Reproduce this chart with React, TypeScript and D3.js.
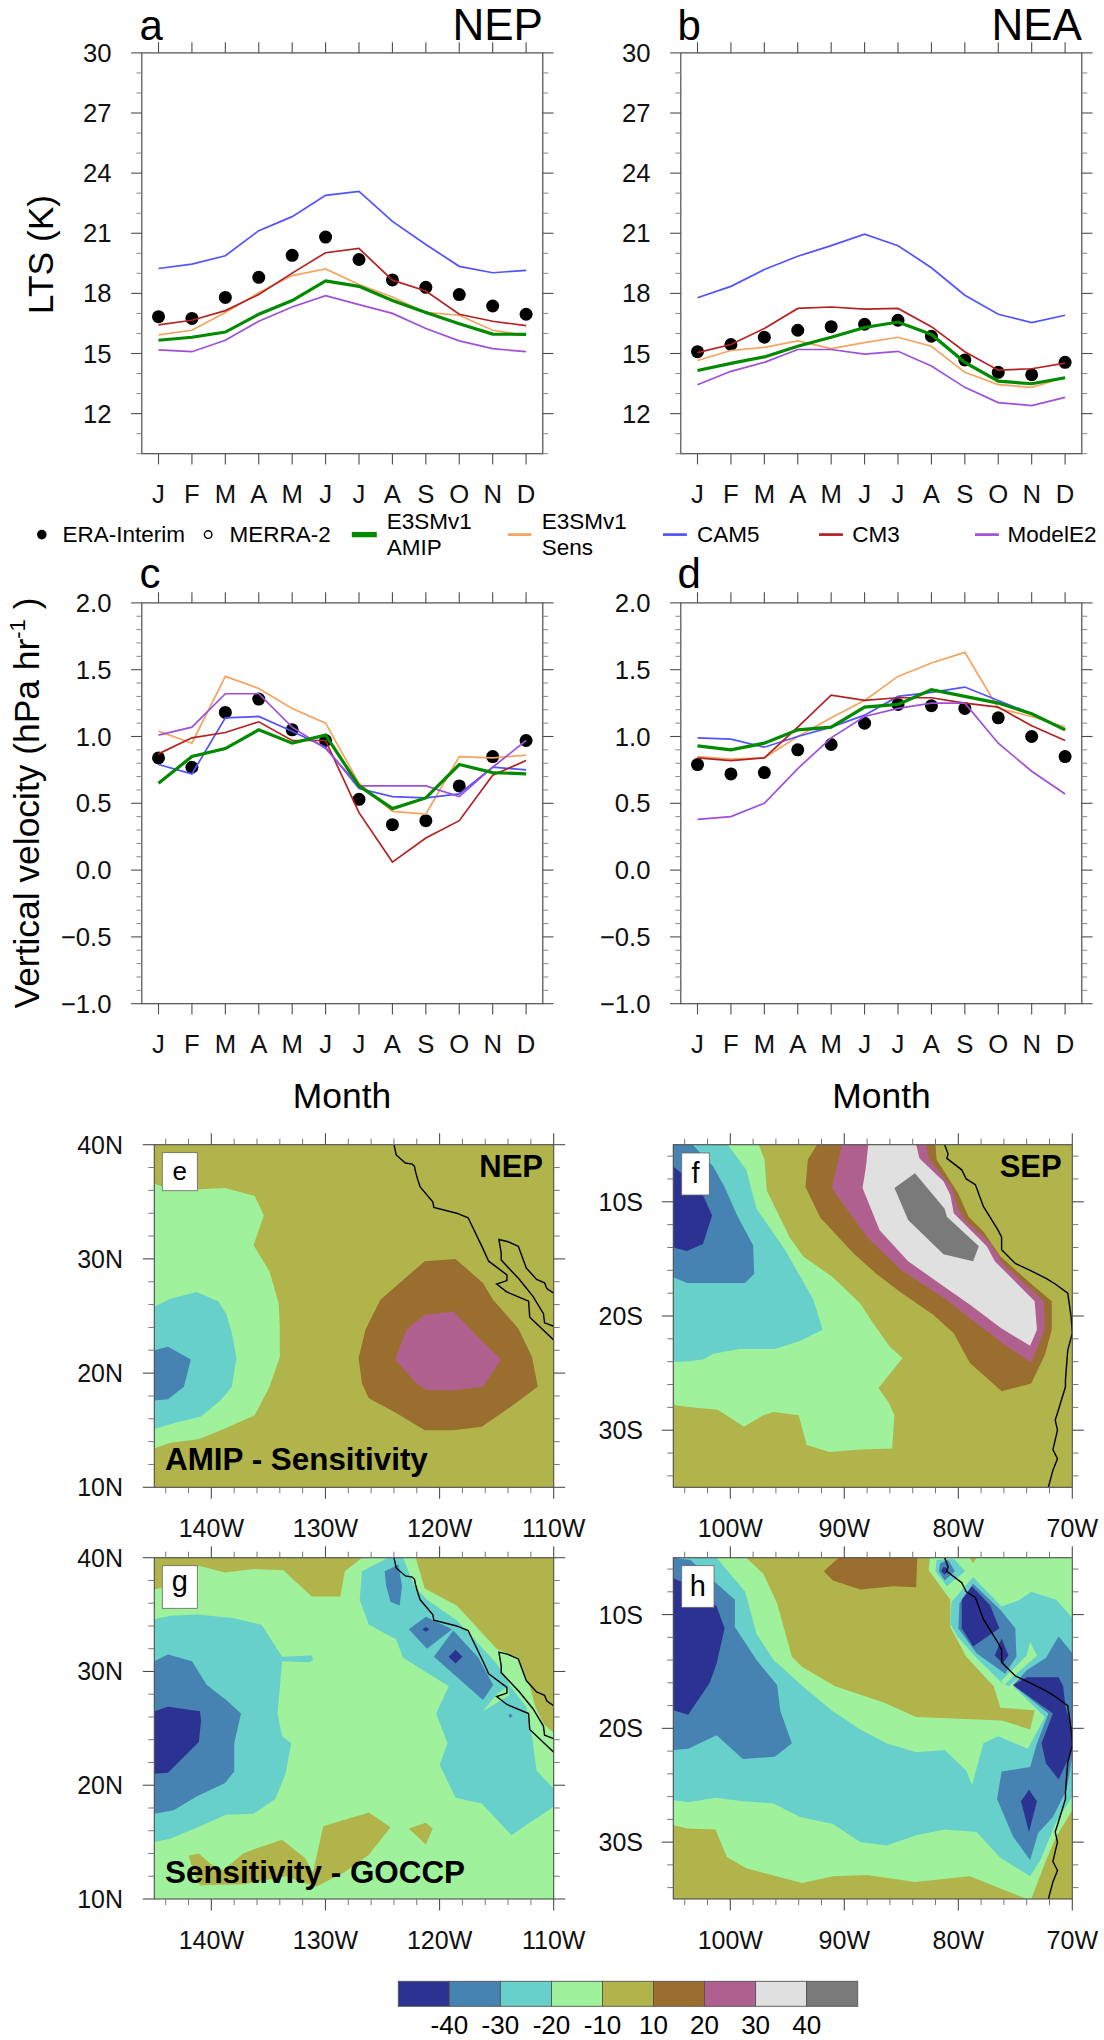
import React from "react";
import * as d3 from "d3";

const months = ["J","F","M","A","M","J","J","A","S","O","N","D"];

// Panel a: LTS NEP
const aEra = [16.84,16.75,17.8,18.8,19.9,20.81,19.69,18.67,18.3,17.94,17.37,16.96];
const aAmip = [15.66,15.81,16.07,16.96,17.64,18.62,18.35,17.64,17.05,16.48,15.97,15.95];
const aSens = [15.93,16.16,17.05,18.03,18.89,19.22,18.44,17.82,17.05,16.91,16.16,15.9];
const aCam5 = [19.24,19.46,19.88,21.13,21.83,22.89,23.09,21.59,20.44,19.35,19.03,19.15];
const aCm3 = [16.43,16.66,17.14,17.94,19.01,20.03,20.24,18.66,18.12,16.96,16.61,16.39];
const aE2 = [15.18,15.09,15.66,16.61,17.32,17.89,17.44,17,16.25,15.63,15.24,15.09];
// Panel b: LTS NEA
const bEra = [15.09,15.45,15.81,16.16,16.34,16.46,16.66,15.86,14.68,14.06,13.94,14.56];
const bAmip = [14.15,14.51,14.83,15.36,15.81,16.3,16.57,15.95,14.56,13.62,13.49,13.79];
const bSens = [14.65,15.15,15.31,15.63,15.24,15.54,15.81,15.36,14.06,13.45,13.31,13.81];
const bCam5 = [17.78,18.35,19.19,19.85,20.38,20.95,20.38,19.28,17.91,16.96,16.54,16.91];
const bCm3 = [15.04,15.45,16.25,17.25,17.32,17.21,17.25,16.34,15.09,14.17,14.24,14.52];
const bE2 = [13.44,14.11,14.56,15.2,15.2,14.97,15.11,14.38,13.31,12.55,12.4,12.81];
// Panel c: omega NEP
const cEra = [0.84,0.77,1.18,1.28,1.05,0.97,0.53,0.34,0.37,0.63,0.85,0.97];
const cAmip = [0.65,0.85,0.91,1.05,0.95,1.01,0.63,0.46,0.54,0.79,0.73,0.72];
const cSens = [1.04,0.95,1.45,1.36,1.21,1.1,0.65,0.44,0.42,0.85,0.84,0.86];
const cCam5 = [0.79,0.72,1.14,1.15,1.04,0.92,0.61,0.55,0.54,0.57,0.77,0.75];
const cCm3 = [0.87,0.99,1.03,1.11,0.97,0.97,0.43,0.06,0.24,0.37,0.71,0.82];
const cE2 = [1.01,1.07,1.32,1.32,1.07,0.91,0.63,0.63,0.63,0.55,0.77,0.97];
// Panel d: omega NEA
const dEra = [0.79,0.72,0.73,0.9,0.94,1.1,1.24,1.23,1.21,1.14,1.0,0.85];
const dAmip = [0.93,0.9,0.95,1.05,1.07,1.22,1.24,1.35,1.3,1.25,1.17,1.05];
const dSens = [0.85,0.83,0.84,1.0,1.14,1.27,1.45,1.55,1.63,1.21,1.15,1.07];
const dCam5 = [0.99,0.98,0.92,1.0,1.07,1.16,1.3,1.33,1.37,1.27,1.17,1.05];
const dCm3 = [0.84,0.82,0.84,1.07,1.31,1.27,1.29,1.29,1.25,1.22,1.08,0.97];
const dE2 = [0.38,0.4,0.5,0.76,0.99,1.15,1.21,1.25,1.25,0.95,0.74,0.57];

const fillLevels = ["#2b3291","#4683b3","#67d0cb","#9ff29b","#b0b44a","#9a6e2f","#b0608f","#e0e0e0","#7a7a7a"];
const levelLabels = ["-40","-30","-20","-10","10","20","30","40"];

type P = [number, number];
type Shape = { c: number; pts: P[] };

// Coastlines [lon, lat]
const coastNepA: P[] = [[-124,40],[-123.8,39.1],[-123,38.4],[-122.4,38.3],[-122.2,38.1],[-122.1,37.6],[-121.9,36.9],[-121.7,36.3],[-120.6,35],[-120.5,34.5],[-118.5,34],[-117.5,33.6],[-116.2,30.9],[-115.7,29.8],[-114.1,28.6],[-114.1,28.1],[-115,27.8],[-114.1,27.1],[-112.2,26.3],[-112.1,24.9],[-110,22.9]];
const coastNepB: P[] = [[-110,27],[-110.6,27.4],[-110.8,27.9],[-111.5,28.2],[-112.4,29.2],[-113.1,31.1],[-114,31.5],[-114.8,31.7],[-114.6,30.5],[-114.6,29.9],[-113,28.2],[-111.8,26.7],[-110.9,25.2],[-110.8,24.4],[-110,24.1]];
const coastSep: P[] = [[-81.2,-5],[-80.9,-5.8],[-81,-6.2],[-79.7,-7.2],[-79.3,-8],[-78.5,-8.5],[-77.8,-10.4],[-76.5,-12.5],[-76.2,-13.1],[-76.2,-14.2],[-75,-15.4],[-73.7,-16],[-72.3,-16.7],[-71.5,-17.2],[-70.4,-18],[-70.3,-18.7],[-70.1,-20.1],[-70,-21.5],[-70.4,-23],[-70.6,-25.6],[-70.6,-26.2],[-71.3,-28.5],[-71.5,-29.1],[-71.3,-30],[-71.7,-31.7],[-71.3,-32.5],[-71.7,-33.5],[-72.1,-35]];

// Panel e contours (level index into fillLevels)
const eShapes: Shape[] = [
  {c:3,pts:[[-145,36.6],[-143.6,36.1],[-141,36.1],[-138.8,36.2],[-136.2,35.5],[-135.4,33.8],[-136.3,31.2],[-134.9,28.9],[-134.1,26.1],[-134,24.1],[-134,21.4],[-134.9,18.8],[-136.2,16.3],[-138.7,15.2],[-141.1,14.2],[-143.6,13.9],[-145,13.4]]},
  {c:2,pts:[[-145,25.8],[-143.6,26.5],[-141.3,27.1],[-139.4,26.3],[-138.7,25.2],[-138.2,23.5],[-137.8,21.3],[-138.2,18.8],[-139.2,17.6],[-140.9,16.2],[-143.3,15.6],[-145,15.1]]},
  {c:1,pts:[[-145,22],[-143.8,22.3],[-141.8,21.2],[-142.4,18.8],[-143.8,17.7],[-145,17.6]]},
  {c:5,pts:[[-121.3,29.8],[-118.6,30],[-116.2,27.9],[-115.3,26.4],[-113.1,23.9],[-111.9,21.4],[-111.4,18.8],[-113.7,17.1],[-116.3,15.3],[-118.8,15],[-121.3,15],[-123.8,16.5],[-126.2,17.8],[-126.8,19.1],[-127.1,21.3],[-126.5,23.8],[-125.2,26.4],[-123.5,27.9]]},
  {c:6,pts:[[-122.9,23.8],[-121.3,25.1],[-118.8,25.4],[-116.3,22.8],[-114.6,21.2],[-116.2,18.8],[-118.6,18.5],[-121.1,18.5],[-122,19.1],[-123.9,21.2]]},
];

// Panel f contours
const fShapes: Shape[] = [
  {c:3,pts:[[-105,-5],[-97.5,-5],[-97,-6.3],[-96.8,-9],[-94.8,-13.1],[-93.6,-14.8],[-91,-16.6],[-88.6,-18.9],[-87.5,-20.6],[-86,-22.7],[-84.9,-23.7],[-87,-26.3],[-86.1,-27.6],[-85.6,-28.7],[-85.8,-31.6],[-88.6,-31.7],[-91.3,-31.9],[-93.3,-31.3],[-94,-28.7],[-96.2,-28.4],[-97.1,-28.7],[-98.8,-29.7],[-101.1,-28.2],[-103.5,-28],[-105,-27.8]]},
  {c:2,pts:[[-105,-5],[-100.2,-5],[-98.6,-7.2],[-97.7,-10.6],[-95.2,-14.2],[-92.7,-18.6],[-91.9,-21.2],[-93.9,-22.2],[-96.1,-22.9],[-99.2,-22.9],[-101.5,-23.3],[-102.4,-23.8],[-104.1,-24],[-105,-24]]},
  {c:1,pts:[[-105,-5],[-103.3,-5],[-101.5,-6.9],[-100.5,-8.7],[-99.4,-11.2],[-98,-13.8],[-97.9,-16.3],[-98.7,-17.1],[-103.8,-17.1],[-105,-16.6]]},
  {c:0,pts:[[-105,-6.9],[-103.8,-7.9],[-102.4,-9.4],[-101.6,-11.2],[-102.4,-13.7],[-103.8,-14.3],[-105,-14]]},
  {c:5,pts:[[-92.4,-5],[-82,-5],[-81.9,-6.3],[-80,-9.3],[-79.1,-11.3],[-77.8,-12.6],[-76.3,-14.8],[-73.7,-17.1],[-71.8,-18.7],[-71.8,-21.2],[-72.4,-23.4],[-73.6,-25.9],[-76.2,-26.6],[-79,-24.1],[-80.4,-21.5],[-82.2,-19.9],[-85.1,-17.9],[-87.2,-16.3],[-89.2,-14.5],[-92.1,-11.4],[-93.4,-8.7],[-93.2,-6.3]]},
  {c:6,pts:[[-90.2,-5],[-82.8,-5],[-82.6,-6.2],[-80.6,-8.7],[-80,-10.6],[-79.4,-11.6],[-77.2,-13.6],[-76.1,-15.4],[-72.5,-18.7],[-72.4,-21.1],[-73.6,-24.1],[-76.1,-22.4],[-79.1,-20.1],[-81,-18.6],[-85,-16],[-88,-13.1],[-91.1,-8.8]]},
  {c:7,pts:[[-87.9,-5],[-83.7,-5],[-83.4,-6.2],[-81.3,-8.2],[-80.7,-9.4],[-80.4,-11],[-79.1,-12.3],[-77.5,-13.9],[-76.8,-15.2],[-73.3,-18.7],[-73.1,-21.2],[-73.7,-22.6],[-76.2,-21.1],[-79,-19],[-81.3,-17.4],[-84.4,-15.2],[-86.9,-12.5],[-88.4,-8.8],[-88.1,-6.9]]},
  {c:8,pts:[[-83.8,-7.5],[-81.2,-10.6],[-81,-11.3],[-78.2,-13.9],[-78.7,-15.2],[-81.3,-14.6],[-84.4,-11.6],[-85.6,-8.8]]},
];

// Panel g contours
const gShapes: Shape[] = [
  {c:4,pts:[[-145,37.2],[-143.9,37.5],[-141.1,39.3],[-138.8,38.7],[-136.3,39],[-133.7,38.9],[-131.2,36.6],[-128.7,36.6],[-128.3,38.8],[-126.8,40],[-145,40]]},
  {c:4,pts:[[-122.1,40],[-110,40],[-110,24.6],[-110.9,25.4],[-111.6,26.9],[-112.1,28.7],[-113.1,31.2],[-115,32],[-118.5,35.8],[-121.3,37.3]]},
  {c:4,pts:[[-142,13.8],[-141.1,14],[-140.1,13.1],[-139,12.5],[-137.2,14],[-136.2,14.4],[-133.8,15.2],[-131.8,13.6],[-131.1,12.3],[-130.2,16.4],[-126.2,17.6],[-124.3,16.3],[-126.2,13.9],[-128.4,12.3],[-130.8,11.1],[-131.9,11.4],[-133.4,12],[-137.2,11.3],[-141,11.2],[-141.6,12.5]]},
  {c:4,pts:[[-122.7,16.2],[-121.2,16.7],[-120.6,16.2],[-121.2,14.8]]},
  {c:2,pts:[[-145,34.6],[-143.6,34.9],[-141.3,35],[-138.1,34.7],[-135.6,34.1],[-133.8,31.3],[-131.2,31.4],[-131.1,31],[-131.4,30.8],[-133.8,30.9],[-134.2,26.3],[-133.8,24.3],[-133,23.7],[-133.5,21],[-134.4,18.8],[-136.3,17.5],[-138.7,17.4],[-141,16.4],[-143.6,15.3],[-145,15]]},
  {c:1,pts:[[-145,30.9],[-143.8,31.5],[-141.7,30.9],[-140.4,28.8],[-138.7,27.5],[-137.4,26.3],[-138,23.7],[-138,21.2],[-138.8,20.2],[-141.3,19],[-143.3,17.8],[-145,17.5]]},
  {c:0,pts:[[-145,26.5],[-143.8,26.9],[-141,26.5],[-140.9,25.7],[-141.1,23.8],[-143.8,21.1],[-145,21]]},
  {c:2,pts:[[-124.5,40],[-123.2,40],[-122.2,37.5],[-121.1,36.3],[-118.5,34.5],[-115,30.7],[-113.8,28.7],[-112.4,26.9],[-111.9,24.3],[-111.5,21.3],[-110,19.7],[-110,18.1],[-112.4,16.5],[-113.7,15.6],[-116.3,18.4],[-118.6,18.9],[-120,21.8],[-119.3,23.7],[-120.3,26.3],[-119.2,28.7],[-123.2,31.2],[-123.8,32.8],[-126.2,34.1],[-127,36.3],[-126.8,38.8]]},
  {c:3,pts:[[-114,28.7],[-115,28],[-116.2,26.5],[-113.9,27.9]]},
  {c:1,pts:[[-124.8,38.8],[-123.6,39.4],[-123.3,37.5],[-123.5,35.8],[-124.3,36.1],[-124.7,37.6]]},
  {c:1,pts:[[-122.7,33.7],[-121.2,34.8],[-118.9,33.7],[-121.1,32]]},
  {c:0,pts:[[-121.5,33.7],[-121.2,33.9],[-120.9,33.7],[-121.2,33.5]]},
  {c:1,pts:[[-118.8,33.6],[-116.6,31.2],[-115.3,28.8],[-116.2,27.5],[-120.5,31.3]]},
  {c:0,pts:[[-118.6,31.9],[-118,31.3],[-118.6,30.7],[-119.2,31.3]]},
  {c:1,pts:[[-113.8,26.3],[-113.6,26.1],[-113.8,25.9],[-114,26.1]]},
];

// Panel h contours
const hShapes: Shape[] = [
  {c:4,pts:[[-98.6,-5],[-82.5,-5],[-82.6,-6.1],[-80.7,-8.7],[-80.7,-11.1],[-79.3,-13.7],[-76.9,-16.3],[-76.3,-18.2],[-73.3,-18.4],[-73.7,-20.1],[-76.2,-19.3],[-83.7,-19],[-86.6,-17.7],[-90.8,-16.3],[-93.7,-14.6],[-94.6,-13.7],[-95.9,-9],[-97.1,-6.4]]},
  {c:5,pts:[[-90.5,-5],[-83.6,-5],[-83.7,-7.6],[-85.7,-7.5],[-88.6,-7.8],[-91,-7],[-91.8,-6.2]]},
  {c:4,pts:[[-105,-28.5],[-103.8,-28.8],[-101.3,-28.9],[-100.3,-31.3],[-98.6,-32.3],[-93.7,-33.6],[-91,-33],[-88,-32.9],[-83.8,-33.5],[-79,-33],[-74,-35],[-105,-35]]},
  {c:4,pts:[[-73.6,-35],[-72.3,-31.6],[-71.4,-29.5],[-70,-27.2],[-70,-35]]},
  {c:4,pts:[[-79,-5],[-78.4,-5],[-78.7,-5.5]]},
  {c:2,pts:[[-105,-5],[-101.2,-5],[-98.7,-8],[-97.7,-11.7],[-96.2,-14],[-93.3,-16.6],[-91,-18.5],[-88.6,-20.1],[-86.3,-21.3],[-83.7,-22.1],[-81.2,-21.9],[-79.3,-23.7],[-78.8,-25],[-77.8,-21.3],[-76.5,-20.7],[-73.9,-21.8],[-72.4,-19],[-75.2,-16.3],[-74,-14.9],[-70,-14.3],[-70,-26],[-71.5,-28.4],[-72.8,-31.6],[-73.7,-33],[-76.3,-31.4],[-78.4,-29.1],[-81.2,-28.9],[-83.7,-29.4],[-86.3,-30.3],[-88.6,-30],[-91,-28.4],[-93.9,-27.8],[-96.2,-26.6],[-98.9,-26.4],[-101.3,-26.1],[-103.7,-26.5],[-105,-26.3]]},
  {c:2,pts:[[-81.9,-5.2],[-80.4,-5.1],[-79.4,-6.2],[-81,-7.5],[-82,-6.2]]},
  {c:2,pts:[[-78.7,-6.7],[-76.2,-9.3],[-74.6,-8.7],[-73.6,-8],[-71.4,-8.7],[-70,-10.3],[-70,-14.3],[-73.1,-14.3],[-75.6,-16.3],[-76.2,-16],[-78.5,-13.7],[-80.1,-11.9],[-80.7,-10.8],[-80.6,-8.9]]},
  {c:3,pts:[[-73.7,-12.4],[-73.1,-13.6],[-74.9,-15.2],[-76,-16.2],[-76.2,-15.8],[-74,-13.6]]},
  {c:1,pts:[[-105,-5],[-103.5,-5.2],[-101.5,-7],[-99.6,-8.7],[-99.6,-11.1],[-97.7,-14],[-95.9,-16.2],[-95.6,-18.5],[-94.6,-21.3],[-96.1,-22.5],[-98.9,-22.7],[-101.2,-20.6],[-103.7,-21.8],[-105,-21.9]]},
  {c:0,pts:[[-105,-6.8],[-102.7,-7.8],[-101.2,-9.3],[-100.5,-11.2],[-101.2,-14.3],[-101.8,-16],[-103.7,-18.8],[-105,-18.4]]},
  {c:1,pts:[[-81.6,-5.5],[-80.9,-5.2],[-80.3,-6.2],[-81.2,-7],[-81.7,-6.2]]},
  {c:0,pts:[[-81.3,-5.8],[-81,-5.9],[-80.9,-6.2],[-81.2,-6.5],[-81.5,-6.2]]},
  {c:1,pts:[[-79.9,-9],[-78.7,-7.3],[-76.3,-9.6],[-75,-11.2],[-74.9,-13.7],[-75.9,-15.2],[-78.4,-13.4],[-80,-11.2]]},
  {c:0,pts:[[-78.8,-7.5],[-77.2,-9.2],[-76.4,-11.2],[-78.7,-12.8],[-79.7,-11.2],[-79.7,-8.7]]},
  {c:0,pts:[[-76.2,-12.1],[-75.6,-13.6],[-76.1,-14.3],[-76.8,-13.6]]},
  {c:1,pts:[[-71.2,-11.9],[-70,-13.4],[-70,-22.5],[-70.5,-25.4],[-71.7,-27.8],[-73,-29.2],[-73.7,-31.6],[-75.2,-29.5],[-76.6,-26.2],[-76.2,-23.8],[-73.7,-23.4],[-73.1,-21.3],[-72.1,-18.7],[-75.2,-16.2],[-74,-14.9],[-72.3,-13.8]]},
  {c:0,pts:[[-75.2,-16.2],[-74,-15.5],[-71.2,-15.5],[-70.8,-16.3],[-70.6,-18.1],[-70,-20.1],[-70,-21.9],[-71.2,-24.5],[-72.3,-23.1],[-72.7,-21.3],[-71.7,-18.7]]},
  {c:0,pts:[[-73.8,-25.4],[-73.1,-26.4],[-73.8,-29.1],[-74.5,-26.4]]},
];

const FONT = "'Liberation Sans', Arial, sans-serif";
const AXIS = "#4d4d4d";
const COLORS = { amip:"#008a00", sens:"#f4a460", cam5:"#5252ff", cm3:"#b22222", e2:"#9f4fd8" };
const PW = 401;
const PH = 400.8;

const xScaleFor = (x0: number) => d3.scaleLinear().domain([0.5, 12.5]).range([x0, x0 + PW]);

function LinePanel(p: { x0: number; y0: number; dom: [number, number]; major: number[]; minor: number[]; fmt: (v:number)=>string;
  era: number[]; amip: number[]; sens: number[]; cam5: number[]; cm3: number[]; e2: number[]; labelRight: number; }) {
  const x = xScaleFor(p.x0);
  const y = d3.scaleLinear().domain(p.dom).range([p.y0 + PH, p.y0]);
  const path = d3.line<number>().x((_, i) => x(i + 1)).y(v => y(v));
  const x1 = p.x0 + PW, yb = p.y0 + PH;
  return (
    <g>
      {p.era.map((v, i) => <circle key={i} cx={x(i + 1)} cy={y(v)} r={6.5} fill="#000" />)}
      <path d={path(p.sens)!} fill="none" stroke={COLORS.sens} strokeWidth={1.7} />
      <path d={path(p.cam5)!} fill="none" stroke={COLORS.cam5} strokeWidth={1.7} />
      <path d={path(p.cm3)!} fill="none" stroke={COLORS.cm3} strokeWidth={1.7} />
      <path d={path(p.e2)!} fill="none" stroke={COLORS.e2} strokeWidth={1.7} />
      <path d={path(p.amip)!} fill="none" stroke={COLORS.amip} strokeWidth={3.2} />
      <rect x={p.x0} y={p.y0} width={PW} height={PH} fill="none" stroke={AXIS} strokeWidth={1.2} />
      {months.map((m, i) => (
        <g key={i}>
          <line x1={x(i + 1)} x2={x(i + 1)} y1={p.y0} y2={p.y0 - 10.7} stroke={AXIS} strokeWidth={1.1} />
          <line x1={x(i + 1)} x2={x(i + 1)} y1={yb} y2={yb + 10.7} stroke={AXIS} strokeWidth={1.1} />
          <text x={x(i + 1)} y={yb + 49.7} textAnchor="middle" fontSize={25.7} fontFamily={FONT} fill="#111">{m}</text>
        </g>
      ))}
      {p.minor.map(v => (
        <g key={v} stroke="#888" strokeWidth={1}>
          <line x1={p.x0} x2={p.x0 - 5.4} y1={y(v)} y2={y(v)} />
          <line x1={x1} x2={x1 + 5.4} y1={y(v)} y2={y(v)} />
        </g>
      ))}
      {p.major.map(v => (
        <g key={v}>
          <line x1={p.x0} x2={p.x0 - 10.7} y1={y(v)} y2={y(v)} stroke={AXIS} strokeWidth={1.1} />
          <line x1={x1} x2={x1 + 10.7} y1={y(v)} y2={y(v)} stroke={AXIS} strokeWidth={1.1} />
          <text x={p.labelRight} y={y(v) + 9.1} textAnchor="end" fontSize={25.7} fontFamily={FONT} fill="#111">{p.fmt(v)}</text>
        </g>
      ))}
    </g>
  );
}

function MapPanel(p: { id: string; x0: number; y0: number; h: number; lon: [number, number]; lat: [number, number];
  lonMajor: number[]; latMajor: number[]; lonLabel: (v:number)=>string; latLabel: (v:number)=>string;
  base: number; shapes: Shape[]; coasts: P[][]; labelRight: number; }) {
  const w = p.id === "e" || p.id === "g" ? 399.4 : 399;
  const x = d3.scaleLinear().domain(p.lon).range([p.x0, p.x0 + w]);
  const y = d3.scaleLinear().domain(p.lat).range([p.y0 + p.h, p.y0]);
  const poly = d3.line<P>().x(d => x(d[0])).y(d => y(d[1])).curve(d3.curveLinearClosed);
  const open = d3.line<P>().x(d => x(d[0])).y(d => y(d[1]));
  const lonMinor = d3.range(p.lon[0] + (((-p.lon[0]) % 2) ? 1 : 0), p.lon[1] + 0.01, 2).filter(v => !p.lonMajor.includes(v));
  const latMinor = d3.range(p.lat[0] + ((Math.abs(p.lat[0]) % 2) ? 1 : 0), p.lat[1] + 0.01, 2).filter(v => !p.latMajor.includes(v));
  const x1 = p.x0 + w, yb = p.y0 + p.h;
  return (
    <g>
      <clipPath id={"clip" + p.id}><rect x={p.x0} y={p.y0} width={w} height={p.h} /></clipPath>
      <rect x={p.x0} y={p.y0} width={w} height={p.h} fill={fillLevels[p.base]} />
      <g clipPath={`url(#clip${p.id})`}>
        {p.shapes.map((s, i) => <path key={i} d={poly(s.pts)!} fill={fillLevels[s.c]} />)}
        {p.coasts.map((c, i) => <path key={i} d={open(c)!} fill="none" stroke="#000" strokeWidth={1.4} />)}
      </g>
      <rect x={p.x0} y={p.y0} width={w} height={p.h} fill="none" stroke={AXIS} strokeWidth={1.1} />
      {lonMinor.map(v => (
        <g key={v} stroke="#777" strokeWidth={1}>
          <line x1={x(v)} x2={x(v)} y1={p.y0} y2={p.y0 - 6} />
          <line x1={x(v)} x2={x(v)} y1={yb} y2={yb + 6} />
        </g>
      ))}
      {latMinor.map(v => (
        <g key={v} stroke="#777" strokeWidth={1}>
          <line x1={p.x0} x2={p.x0 - 6} y1={y(v)} y2={y(v)} />
          <line x1={x1} x2={x1 + 6} y1={y(v)} y2={y(v)} />
        </g>
      ))}
      {p.lonMajor.map(v => (
        <g key={v}>
          <line x1={x(v)} x2={x(v)} y1={p.y0} y2={p.y0 - 11.5} stroke={AXIS} strokeWidth={1.1} />
          <line x1={x(v)} x2={x(v)} y1={yb} y2={yb + 11.5} stroke={AXIS} strokeWidth={1.1} />
          <text x={x(v)} y={yb + 50} textAnchor="middle" fontSize={25} fontFamily={FONT} fill="#111">{p.lonLabel(v)}</text>
        </g>
      ))}
      {p.latMajor.map(v => (
        <g key={v}>
          <line x1={p.x0} x2={p.x0 - 11.5} y1={y(v)} y2={y(v)} stroke={AXIS} strokeWidth={1.1} />
          <line x1={x1} x2={x1 + 11.5} y1={y(v)} y2={y(v)} stroke={AXIS} strokeWidth={1.1} />
          <text x={p.labelRight} y={y(v) + 9} textAnchor="end" fontSize={25} fontFamily={FONT} fill="#111">{p.latLabel(v)}</text>
        </g>
      ))}
    </g>
  );
}

function LetterBox(p: { x: number; y: number; w: number; h: number; t: string; by: number; fs: number }) {
  return (
    <g>
      <rect x={p.x} y={p.y} width={p.w} height={p.h} fill="#fff" stroke="#666" strokeWidth={0.8} />
      <text x={p.x + p.w / 2} y={p.by} textAnchor="middle" fontSize={p.fs} fontFamily={FONT} fill="#000">{p.t}</text>
    </g>
  );
}

const T = (p: { x: number; y: number; s: number; t: string; a?: string; b?: boolean }) => (
  <text x={p.x} y={p.y} fontSize={p.s} fontFamily={FONT} fontWeight={p.b ? "bold" : "normal"} textAnchor={p.a ?? "start"} fill="#000">{p.t}</text>
);

export default function App() {
  const ltsMajor = [12, 15, 18, 21, 24, 27, 30];
  const ltsMinor = d3.range(10, 31).filter(v => !ltsMajor.includes(v));
  const omMajor = [-1, -0.5, 0, 0.5, 1, 1.5, 2];
  const omMinor = d3.range(-10, 21).map(v => v / 10).filter(v => !omMajor.includes(v));
  const lonLab = (v: number) => `${Math.abs(v)}W`;
  const latN = (v: number) => `${v}N`;
  const latS = (v: number) => `${Math.abs(v)}S`;
  const cbar = d3.scaleLinear().domain([0, 9]).range([398.3, 857.7]);
  const axisFmt = d3.format(".1f");
  return (
    <svg width={1104} height={2040} viewBox="0 0 1104 2040" style={{ position: "absolute", left: 0, top: 0, display: "block", background: "#fff" }}>
      <LinePanel x0={141.8} y0={52.9} dom={[10, 30]} major={ltsMajor} minor={ltsMinor} fmt={v => String(v)} era={aEra} amip={aAmip} sens={aSens} cam5={aCam5} cm3={aCm3} e2={aE2} labelRight={111.5} />
      <LinePanel x0={680.8} y0={52.9} dom={[10, 30]} major={ltsMajor} minor={ltsMinor} fmt={v => String(v)} era={bEra} amip={bAmip} sens={bSens} cam5={bCam5} cm3={bCm3} e2={bE2} labelRight={650.5} />
      <LinePanel x0={141.8} y0={602.9} dom={[-1, 2]} major={omMajor} minor={omMinor} fmt={axisFmt} era={cEra} amip={cAmip} sens={cSens} cam5={cCam5} cm3={cCm3} e2={cE2} labelRight={111.5} />
      <LinePanel x0={680.8} y0={602.9} dom={[-1, 2]} major={omMajor} minor={omMinor} fmt={axisFmt} era={dEra} amip={dAmip} sens={dSens} cam5={dCam5} cm3={dCm3} e2={dE2} labelRight={650.5} />

      <T x={139.5} y={39.5} s={42} t="a" />
      <T x={542.9} y={40.3} s={44} t="NEP" a="end" />
      <T x={677.5} y={39.5} s={42} t="b" />
      <T x={1081.9} y={40.3} s={44} t="NEA" a="end" />
      <T x={139.5} y={588} s={42} t="c" />
      <T x={677.5} y={588} s={42} t="d" />

      <text transform="translate(52.5,254.5) rotate(-90)" textAnchor="middle" fontSize={35.4} fontFamily={FONT} fill="#000">LTS (K)</text>
      <text transform="translate(38.6,803) rotate(-90)" textAnchor="middle" fontSize={35.4} fontFamily={FONT} fill="#000">
        Vertical velocity (hPa hr<tspan dy={-14} fontSize={22}>-1</tspan><tspan dy={14}> )</tspan>
      </text>
      <T x={342} y={1108} s={35.4} t="Month" a="middle" />
      <T x={881.5} y={1108} s={35.4} t="Month" a="middle" />

      {/* Legend */}
      <circle cx={41.8} cy={534.6} r={4.8} fill="#000" />
      <T x={62.5} y={542} s={22.5} t="ERA-Interim" />
      <circle cx={208.2} cy={534.6} r={3.8} fill="none" stroke="#000" strokeWidth={1.4} />
      <T x={229.6} y={542} s={22.5} t="MERRA-2" />
      <line x1={351.8} x2={376.8} y1={534.6} y2={534.6} stroke={COLORS.amip} strokeWidth={5.3} />
      <T x={386.8} y={529.3} s={22.5} t="E3SMv1" />
      <T x={386.8} y={555.4} s={22.5} t="AMIP" />
      <line x1={507.9} x2={531.4} y1={534.6} y2={534.6} stroke={COLORS.sens} strokeWidth={2.7} />
      <T x={541.8} y={529.3} s={22.5} t="E3SMv1" />
      <T x={541.8} y={555.4} s={22.5} t="Sens" />
      <line x1={663} x2={686.9} y1={534.6} y2={534.6} stroke={COLORS.cam5} strokeWidth={2.7} />
      <T x={696.9} y={542} s={22.5} t="CAM5" />
      <line x1={819} x2={842.9} y1={534.6} y2={534.6} stroke={COLORS.cm3} strokeWidth={2.7} />
      <T x={852.2} y={542} s={22.5} t="CM3" />
      <line x1={975} x2={998.9} y1={534.6} y2={534.6} stroke={COLORS.e2} strokeWidth={2.7} />
      <T x={1007.6} y={542} s={22.5} t="ModelE2" />

      {/* Maps */}
      <MapPanel id="e" x0={154.3} y0={1144.7} h={342.6} lon={[-145, -110]} lat={[10, 40]} lonMajor={[-140, -130, -120, -110]} latMajor={[10, 20, 30, 40]} lonLabel={lonLab} latLabel={latN} base={4} shapes={eShapes} coasts={[coastNepA, coastNepB]} labelRight={123} />
      <MapPanel id="f" x0={673.3} y0={1144.7} h={342.6} lon={[-105, -70]} lat={[-35, -5]} lonMajor={[-100, -90, -80, -70]} latMajor={[-30, -20, -10]} lonLabel={lonLab} latLabel={latS} base={4} shapes={fShapes} coasts={[coastSep]} labelRight={643} />
      <MapPanel id="g" x0={154.3} y0={1557.7} h={341.3} lon={[-145, -110]} lat={[10, 40]} lonMajor={[-140, -130, -120, -110]} latMajor={[10, 20, 30, 40]} lonLabel={lonLab} latLabel={latN} base={3} shapes={gShapes} coasts={[coastNepA, coastNepB]} labelRight={123} />
      <MapPanel id="h" x0={673.3} y0={1557.7} h={341.3} lon={[-105, -70]} lat={[-35, -5]} lonMajor={[-100, -90, -80, -70]} latMajor={[-30, -20, -10]} lonLabel={lonLab} latLabel={latS} base={3} shapes={hShapes} coasts={[coastSep]} labelRight={643} />

      <LetterBox x={162.3} y={1152.7} w={35} h={38} t="e" by={1179.5} fs={26} />
      <LetterBox x={681.7} y={1153} w={27.6} h={42} t="f" by={1183} fs={29} />
      <LetterBox x={162.3} y={1565.7} w={35} h={42.6} t="g" by={1590.5} fs={29} />
      <LetterBox x={681.7} y={1565.7} w={32.3} h={41.6} t="h" by={1596} fs={29} />

      <T x={543} y={1176.7} s={31} t="NEP" a="end" b />
      <T x={1061.7} y={1177} s={31} t="SEP" a="end" b />
      <T x={165} y={1470} s={31.4} t="AMIP - Sensitivity" b />
      <T x={165} y={1882.7} s={31.4} t="Sensitivity - GOCCP" b />

      {/* Colour bar */}
      {fillLevels.map((c, i) => (
        <rect key={i} x={cbar(i)} y={1981.3} width={cbar(i + 1) - cbar(i)} height={25} fill={c} stroke="#555" strokeWidth={0.9} />
      ))}
      {levelLabels.map((l, i) => (
        <T key={l} x={cbar(i + 1)} y={2034} s={26} t={l} a="middle" />
      ))}
    </svg>
  );
}
